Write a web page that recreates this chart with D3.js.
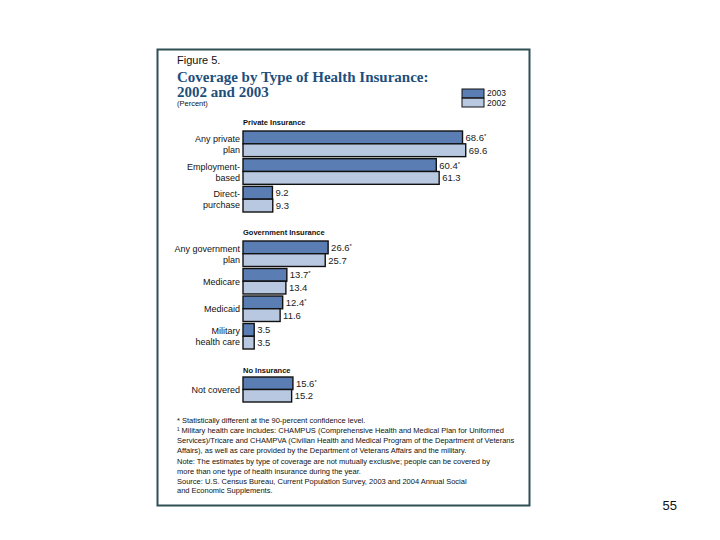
<!DOCTYPE html>
<html><head><meta charset="utf-8">
<script src="https://cdn.jsdelivr.net/npm/d3@7"></script>
<style>body{margin:0;background:#fff;} svg{display:block;}</style>
</head><body>
<svg id="c" width="720" height="540"></svg>
<script>
const years = ["2003", "2002"];
const sectionNames = ["Private Insurance", "Government Insurance", "No Insurance"];
const privateCats = ["Any private plan", "Employment-based", "Direct-purchase"];
const privateLabels = [["Any private", "plan"], ["Employment-", "based"], ["Direct-", "purchase"]];
const private2003 = [68.6, 60.4, 9.2];
const private2002 = [69.6, 61.3, 9.3];
const privateSig = [true, true, false];
const govCats = ["Any government plan", "Medicare", "Medicaid", "Military health care"];
const govLabels = [["Any government", "plan"], ["Medicare"], ["Medicaid"], ["Military", "health care"]];
const gov2003 = [26.6, 13.7, 12.4, 3.5];
const gov2002 = [25.7, 13.4, 11.6, 3.5];
const govSig = [true, true, true, false];
const noneCats = ["Not covered"];
const noneLabels = [["Not covered"]];
const none2003 = [15.6];
const none2002 = [15.2];
const noneSig = [true];
const footnotes = [
  "* Statistically different at the 90-percent confidence level.",
  "\u00B9 Military health care includes: CHAMPUS (Comprehensive Health and Medical Plan for Uniformed",
  "Services)/Tricare and CHAMPVA (Civilian Health and Medical Program of the Department of Veterans",
  "Affairs), as well as care provided by the Department of Veterans Affairs and the military.",
  "Note:  The estimates by type of coverage are not mutually exclusive; people can be covered by",
  "more than one type of health insurance during the year.",
  "Source: U.S. Census Bureau, Current Population Survey, 2003 and 2004 Annual Social",
  "and Economic Supplements."
];

const sections = [
  {name: sectionNames[0], cats: privateCats, labels: privateLabels, v03: private2003, v02: private2002, sig: privateSig, top: 131, headerY: 125},
  {name: sectionNames[1], cats: govCats, labels: govLabels, v03: gov2003, v02: gov2002, sig: govSig, top: 241, headerY: 235},
  {name: sectionNames[2], cats: noneCats, labels: noneLabels, v03: none2003, v02: none2002, sig: noneSig, top: 377, headerY: 373}
];

const svg = d3.select("#c");
const colors = d3.scaleOrdinal().domain(years).range(["#5a7db4", "#b9c8e1"]);
const titleColor = "#1d4f7c";
const sans = "'Liberation Sans', Arial, sans-serif";

// frame
svg.append("rect").attr("x", 157.5).attr("y", 49.5).attr("width", 372).attr("height", 456)
  .attr("fill", "#fff").attr("stroke", "#2e4f55").attr("stroke-width", 2);

// titles
svg.append("text").attr("x", 177).attr("y", 64).attr("font-family", sans).attr("font-size", 11)
  .attr("fill", "#111").text("Figure 5.");
svg.append("text").attr("x", 177).attr("y", 82).attr("font-family", "'Liberation Serif', 'DejaVu Serif', serif")
  .attr("font-weight", "bold").attr("font-size", 15).attr("fill", titleColor)
  .text("Coverage by Type of Health Insurance:");
svg.append("text").attr("x", 177).attr("y", 97).attr("font-family", "'Liberation Serif', 'DejaVu Serif', serif")
  .attr("font-weight", "bold").attr("font-size", 15).attr("fill", titleColor)
  .text("2002 and 2003");
svg.append("text").attr("x", 177).attr("y", 106).attr("font-family", sans).attr("font-size", 7.5)
  .attr("fill", "#111").text("(Percent)");

// legend
const legY = d3.scaleBand().domain(years).range([89, 107]).paddingInner(0.05);
years.forEach(y => {
  svg.append("rect").attr("x", 462).attr("y", legY(y)).attr("width", 22).attr("height", legY.bandwidth())
    .attr("fill", colors(y)).attr("stroke", "#111").attr("stroke-width", 1);
  svg.append("text").attr("x", 487).attr("y", legY(y) + legY.bandwidth() - 1.5)
    .attr("font-family", sans).attr("font-size", 8.5).attr("fill", "#111").text(y);
});

// scales
const x = d3.scaleLinear().domain([0, 70]).range([243, 243 + 224]);
const pitch = 27;

sections.forEach(sec => {
  svg.append("text").attr("x", 243).attr("y", sec.headerY).attr("font-family", sans)
    .attr("font-weight", "bold").attr("font-size", 7.5).attr("fill", "#111").text(sec.name);
  const yG = d3.scaleBand().domain(sec.cats).range([sec.top, sec.top + pitch * sec.cats.length])
    .paddingInner(2 / pitch).paddingOuter(0).align(0);
  const yY = d3.scaleBand().domain(years).range([0, yG.bandwidth()]);
  const g = svg.append("g");
  sec.cats.forEach((cat, i) => {
    const vals = {"2003": sec.v03[i], "2002": sec.v02[i]};
    years.forEach(yr => {
      const y0 = yG(cat) + yY(yr);
      g.append("rect").attr("x", x(0)).attr("y", y0).attr("width", x(vals[yr]) - x(0)).attr("height", yY.bandwidth())
        .attr("fill", colors(yr)).attr("stroke", "#111").attr("stroke-width", 1.4);
      const t = g.append("text").attr("x", x(vals[yr]) + 3).attr("y", y0 + yY.bandwidth() / 2 + 3.5)
        .attr("font-family", sans).attr("font-size", 9.5).attr("fill", "#222").text(d3.format(".1f")(vals[yr]));
      if (yr === "2003" && sec.sig[i]) {
        t.append("tspan").attr("font-size", 6).attr("dy", -3).text("*");
      }
    });
    const lines = sec.labels[i];
    const cy = yG(cat) + yG.bandwidth() / 2;
    lines.forEach((ln, k) => {
      svg.append("text").attr("x", 240).attr("text-anchor", "end")
        .attr("y", cy + 3.5 + (k - (lines.length - 1) / 2) * 11)
        .attr("font-family", sans).attr("font-size", 9).attr("fill", "#111").text(ln);
    });
  });
});

// footnotes
const fy = [423, 433, 443, 453, 464, 474, 484, 493];
footnotes.forEach((f, i) => {
  svg.append("text").attr("x", 177).attr("y", fy[i]).attr("font-family", sans)
    .attr("font-size", 7.5).attr("fill", "#111").text(f);
});

// page number
svg.append("text").attr("x", 677).attr("y", 510).attr("text-anchor", "end").attr("font-family", sans)
  .attr("font-size", 13).attr("fill", "#111").text("55");
</script>
</body></html>
